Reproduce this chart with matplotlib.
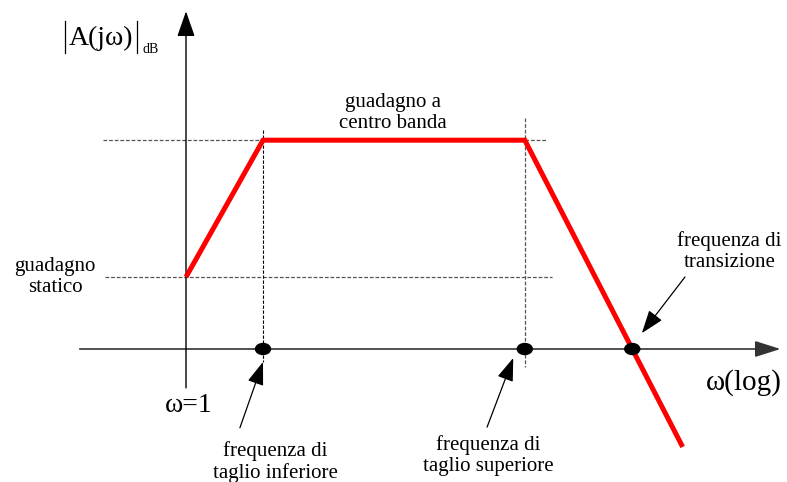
import numpy as np
import matplotlib.pyplot as plt
from matplotlib.patches import Ellipse

# Diagramma di Bode asintotico (modulo) di un passa-banda
# x: log10(omega) in decadi, y: guadagno in dB

omega_log = [0.0, 1.0, 4.4, 6.45]     # spezzata: omega=1, taglio inf., taglio sup., fine
gain_db = [20.0, 58.0, 58.0, -27.2]
gain_static = gain_db[0]
gain_mid = gain_db[1]
f_low = omega_log[1]
f_high = omega_log[2]

# frequenza di transizione: dove la retta discendente attraversa 0 dB
f_t = np.interp(0.0, gain_db[:1:-1], omega_log[:1:-1])

PX_X = 77.0   # pixel per decade
PX_Y = 3.6    # pixel per dB
W, H = 787, 482
X0, Y0 = 186, 349   # origine in pixel

plt.rcParams['font.family'] = ['Liberation Serif', 'DejaVu Serif']

fig = plt.figure(figsize=(W / 100, H / 100), dpi=100)
ax = fig.add_axes([0, 0, 1, 1])
ax.set_xlim(-X0 / PX_X, (W - X0) / PX_X)
ax.set_ylim(-(H - Y0) / PX_Y, Y0 / PX_Y)
ax.axis('off')

# assi con freccia
ax.annotate('', xy=(7.72, 0), xytext=(-1.38, 0),
            arrowprops=dict(arrowstyle='-|>,head_length=0.63,head_width=0.2',
                            color='#333333', lw=1.2, mutation_scale=25,
                            shrinkA=0, shrinkB=0))
ax.annotate('', xy=(0, 93.8), xytext=(0, -10.8),
            arrowprops=dict(arrowstyle='-|>,head_length=0.63,head_width=0.22',
                            color='black', lw=1.0, mutation_scale=25,
                            shrinkA=0, shrinkB=0))

# linee guida tratteggiate
dash = dict(color='#555555', lw=0.9, ls=(0, (3, 1.5)))
ax.plot([-1.08, 4.69], [gain_mid, gain_mid], **dash)
ax.plot([-1.05, 4.75], [gain_static, gain_static], **dash)
ax.plot([f_low, f_low], [60.8, -3.6], color='black', lw=0.8, ls=(0, (3, 1.5)))
ax.plot([f_high, f_high], [64.2, -5.0], **dash)

# spezzata del modulo
ax.plot(omega_log, gain_db, color='#ff0000', lw=3.6, solid_capstyle='butt',
        solid_joinstyle='miter', zorder=3)

# punti sull'asse delle frequenze
for f in [f_low, f_high, f_t]:
    ax.add_patch(Ellipse((f, 0), 15 / PX_X, 11 / PX_Y, color='black', zorder=4))

# etichette
ax.text(-1.10, 86.3, 'A(jω)', fontsize=20, ha='center', va='center')
ax.plot([-1.571, -1.571], [91.0, 82.3], color='black', lw=0.9)
ax.plot([-0.636, -0.636], [91.0, 82.3], color='black', lw=0.9)
ax.text(-0.57, 83.2, 'dB', fontsize=10, ha='left', va='center')

ax.text(2.69, 65.5, 'guadagno a\ncentro banda', fontsize=15, ha='center',
        va='center', linespacing=1.15)
ax.text(-1.70, 20.0, 'guadagno\nstatico', fontsize=15, ha='center',
        va='center', linespacing=1.15)
ax.text(0.03, -15.6, 'ω=1', fontsize=20, ha='center', va='center')
ax.text(7.25, -9.2, 'ω(log)', fontsize=21, ha='center', va='center')

ax.text(1.16, -31.4, 'frequenza di\ntaglio inferiore', fontsize=15,
        ha='center', va='center', linespacing=1.15)
ax.text(3.92, -29.6, 'frequenza di\ntaglio superiore', fontsize=15,
        ha='center', va='center', linespacing=1.15)
ax.text(7.06, 27.0, 'frequenza di\ntransizione', fontsize=15,
        ha='center', va='center', linespacing=1.15)

# frecce delle annotazioni
ann = dict(arrowstyle='-|>,head_length=0.65,head_width=0.23', color='black',
           lw=0.9, mutation_scale=22, shrinkA=0, shrinkB=0)
ax.annotate('', xy=(1.0, -3.6), xytext=(0.70, -21.9), arrowprops=ann)
ax.annotate('', xy=(4.25, -2.5), xytext=(3.91, -21.7), arrowprops=ann)
ax.annotate('', xy=(5.92, 4.4), xytext=(6.48, 20.0), arrowprops=ann)

fig.savefig('out.png', dpi=100)
